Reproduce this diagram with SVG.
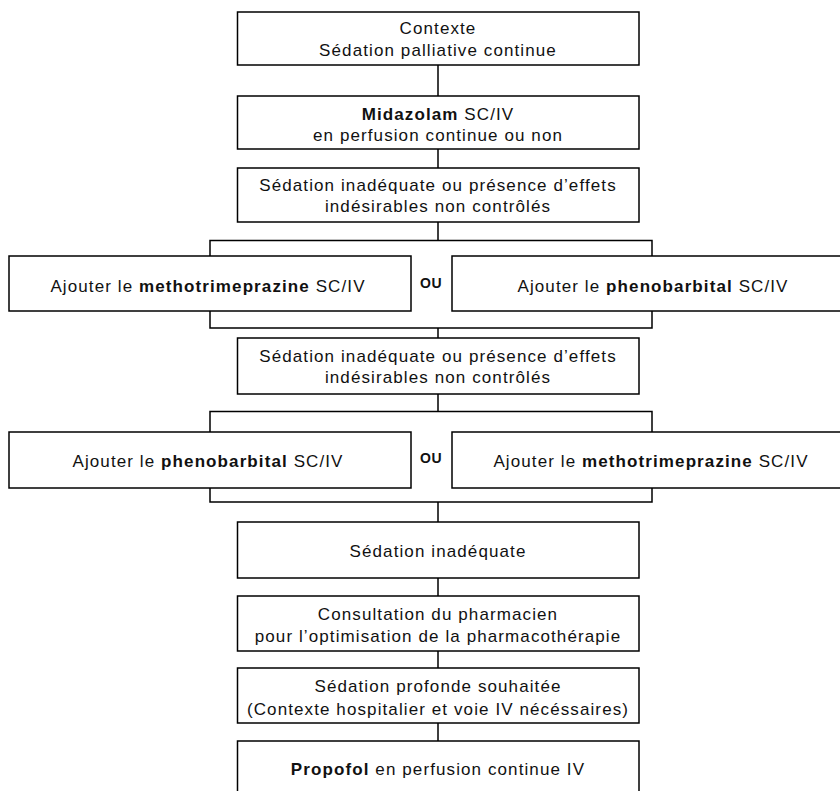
<svg xmlns="http://www.w3.org/2000/svg" width="840" height="791" viewBox="0 0 840 791">
<style>
.box{fill:#fff;stroke:#000;stroke-width:1.5}
.t{font-family:"Liberation Sans",Arial,sans-serif;font-size:17px;fill:#111;text-anchor:middle;letter-spacing:1.1px}
.b{font-weight:bold}
.ou{font-family:"Liberation Sans",Arial,sans-serif;font-size:14px;font-weight:bold;fill:#111;text-anchor:middle;letter-spacing:0.4px}
.c{fill:none;stroke:#000;stroke-width:1.5}
</style>
<rect width="840" height="791" fill="#fff"/>
<g id="connectors" class="c">
<path d="M438 65V96M438 149V168M438 222V240.5M210 256V240.5H652V256M210 311V328H652V311M438 328V338M438 394V411.5M210 432V411.5H652V432M210 488V502H652V488M438 502V522M438 578V596M438 651V668M438 723V741"/>
</g>
<g id="n1"><rect class="box" x="237.5" y="12" width="401.5" height="53"/>
<text class="t" x="438" y="34">Contexte</text>
<text class="t" x="438" y="56">Sédation palliative continue</text></g>
<g id="n2"><rect class="box" x="237.5" y="96" width="401.5" height="53"/>
<text class="t" x="438" y="120"><tspan class="b">Midazolam</tspan> SC/IV</text>
<text class="t" x="438" y="141">en perfusion continue ou non</text></g>
<g id="n3"><rect class="box" x="237.5" y="168" width="401.5" height="54"/>
<text class="t" x="438" y="191">Sédation inadéquate ou présence d’effets</text>
<text class="t" x="438" y="212">indésirables non contrôlés</text></g>
<g id="n4"><rect class="box" x="9" y="256" width="402" height="55"/>
<text class="t" x="208" y="291.5">Ajouter le <tspan class="b">methotrimeprazine</tspan> SC/IV</text></g>
<g id="ou1"><text class="ou" x="431" y="288">OU</text></g>
<g id="n5"><rect class="box" x="452" y="256" width="402" height="55"/>
<text class="t" x="653" y="291.5">Ajouter le <tspan class="b">phenobarbital</tspan> SC/IV</text></g>
<g id="n6"><rect class="box" x="237.5" y="338" width="401.5" height="56"/>
<text class="t" x="438" y="362">Sédation inadéquate ou présence d’effets</text>
<text class="t" x="438" y="383">indésirables non contrôlés</text></g>
<g id="n7"><rect class="box" x="9" y="432" width="402" height="56"/>
<text class="t" x="208" y="467">Ajouter le <tspan class="b">phenobarbital</tspan> SC/IV</text></g>
<g id="ou2"><text class="ou" x="431" y="463">OU</text></g>
<g id="n8"><rect class="box" x="452" y="432" width="402" height="56"/>
<text class="t" x="651" y="467">Ajouter le <tspan class="b">methotrimeprazine</tspan> SC/IV</text></g>
<g id="n9"><rect class="box" x="237.5" y="522" width="401.5" height="56"/>
<text class="t" x="438" y="556.5">Sédation inadéquate</text></g>
<g id="n10"><rect class="box" x="237.5" y="596" width="401.5" height="55"/>
<text class="t" x="438" y="620">Consultation du pharmacien</text>
<text class="t" x="438" y="641.5">pour l’optimisation de la pharmacothérapie</text></g>
<g id="n11"><rect class="box" x="237.5" y="668" width="401.5" height="55"/>
<text class="t" x="438" y="692">Sédation profonde souhaitée</text>
<text class="t" x="438" y="715">(Contexte hospitalier et voie IV nécéssaires)</text></g>
<g id="n12"><rect class="box" x="237.5" y="741" width="401.5" height="60"/>
<text class="t" x="438" y="775"><tspan class="b">Propofol</tspan> en perfusion continue IV</text></g>
</svg>
